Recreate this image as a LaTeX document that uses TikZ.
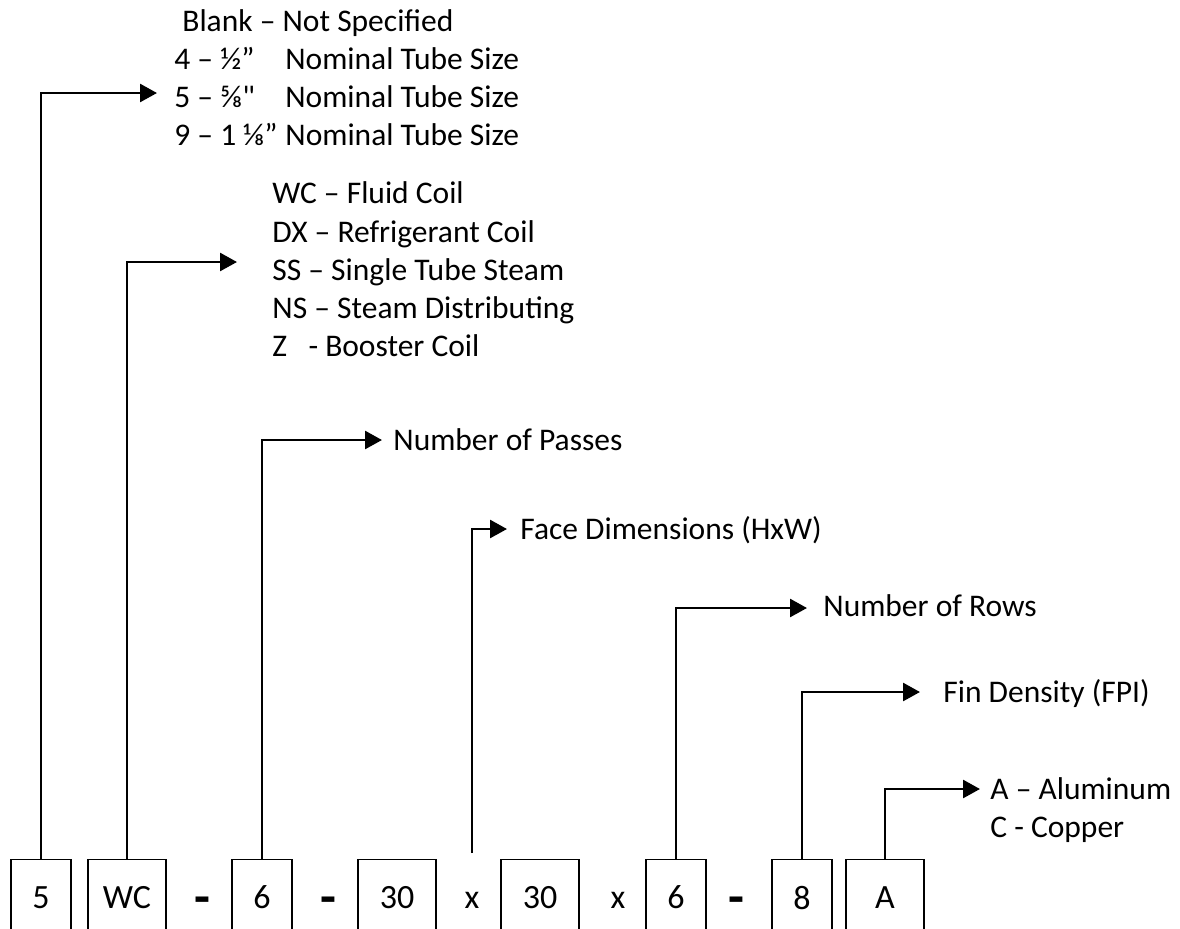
\documentclass[tikz,border=0pt]{standalone}
\usepackage{fontspec}
\setmainfont{Carlito}[Numbers=Lining]
\newfontfamily\plainquote{Carlito}
\usetikzlibrary{arrows.meta}

\tikzset{
  part/.style={draw, line width=0.6pt, minimum height=38pt, inner sep=0pt, anchor=north,
    font=\fontsize{17}{20}\selectfont},
  sep/.style={inner sep=0pt, font=\fontsize{26}{26}\selectfont\bfseries},
  key/.style={inner sep=0pt, anchor=west, text height=10pt, text depth=0pt},
  feed/.style={line width=1.35pt, -{Triangle[length=8.5pt,width=9pt]}},
}
\newcommand{\tubesize}[1]{\makebox[55.5pt][l]{#1}Nominal Tube Size}

\begin{document}
\begin{tikzpicture}[x=0.5pt, y=-0.5pt, font=\fontsize{15.75}{19}\selectfont]
    \useasboundingbox (0,0) rectangle (1180,928);

    % model number
    \node[part, minimum width=30pt] at (41, 859) (p5) {5};
    \node[part, minimum width=39pt] at (127, 859) (pwc) {WC};
    \node[sep] at (202, 906) (s1) {-};
    \node[part, minimum width=30pt] at (262, 859) (p6a) {6};
    \node[sep] at (328, 906) (s2) {-};
    \node[part, minimum width=39pt] at (397, 859) (p30a) {30};
    \node[inner sep=0pt, font=\fontsize{17}{20}\selectfont] at (472, 900) (x1) {x};
    \node[part, minimum width=39pt] at (540, 859) (p30b) {30};
    \node[inner sep=0pt, font=\fontsize{17}{20}\selectfont] at (618, 900) (x2) {x};
    \node[part, minimum width=30pt] at (676, 859) (p6b) {6};
    \node[sep] at (736, 906) (s3) {-};
    \node[part, minimum width=30pt] at (802, 859) (p8) {8};
    \node[part, minimum width=39pt] at (885, 859) (pa) {A};
    \coordinate (facefoot) at (472, 853);

    % tube size
    \node[key] at (182, 21) (tube0) {Blank – Not Specified};
    \node[key] at (174, 59) (tube1) {\tubesize{4 – ½”}};
    \node[key] at (174, 97) (tube2) {\tubesize{5 – ⅝{\plainquote"}}};
    \node[key] at (174, 135) (tube3) {\tubesize{9 – 1 ⅛”}};

    % coil type
    \node[key] at (272, 193) (type0) {WC – Fluid Coil};
    \node[key] at (272, 232) (type1) {DX – Refrigerant Coil};
    \node[key] at (272, 270) (type2) {SS – Single Tube Steam};
    \node[key] at (272, 308) (type3) {NS – Steam Distributing};
    \node[key] at (272, 346) (type4) {Z\ \ \ - Booster Coil};

    \node[key] at (393, 440) (passes) {Number of Passes};
    \node[key] at (520, 529) (face) {Face Dimensions (HxW)};
    \node[key] at (823, 606) (rows) {Number of Rows};
    \node[key] at (943, 692) (fins) {Fin Density (FPI)};
    \node[key] at (990, 789) (alu) {A – Aluminum};
    \node[key] at (990, 827) (cu) {C - Copper};

    \draw[feed, shorten >=8.5pt] (p5.north) |- ([yshift=2pt]tube2.west);
    \draw[feed, shorten >=17.5pt] (pwc.north) |- ([yshift=4pt]type2.west);
    \draw[feed, shorten >=5.5pt] (p6a.north) |- (passes.west);
    \draw[feed, shorten >=6.5pt] (facefoot) |- (face.west);
    \draw[feed, shorten >=8pt] (p6b.north) |- ([yshift=-1pt]rows.west);
    \draw[feed, shorten >=11.5pt] (p8.north) |- (fins.west);
    \draw[feed, shorten >=5pt] (pa.north) |- (alu.west);
\end{tikzpicture}
\end{document}
